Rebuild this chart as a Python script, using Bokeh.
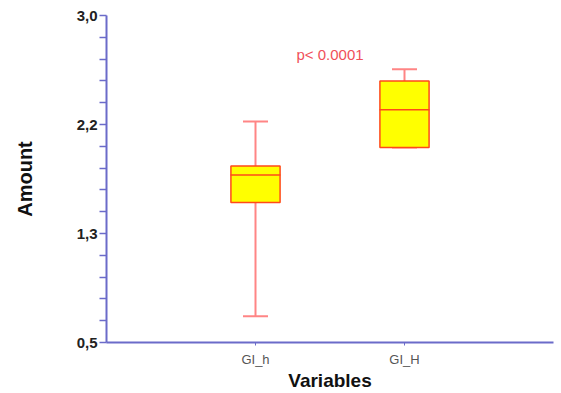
from bokeh.plotting import figure
from bokeh.models import FactorRange, Range1d, FixedTicker, Whisker, ColumnDataSource, Label, TeeHead
from bokeh.embed import file_html
from bokeh.resources import INLINE

# ---- data ----
categories = ["GI_h", "GI_H"]
lower = [0.70, 1.99]
q1 = [1.57, 1.99]
median = [1.78, 2.28]
q3 = [1.85, 2.50]
upper = [2.19, 2.59]

y_ticks = [0.5, 0.5 + 2.5 / 3, 0.5 + 5.0 / 3, 3.0]
y_tick_labels = ["0,5", "1,3", "2,2", "3,0"]
p_text = "p< 0.0001"

AXIS_COLOR = "#6b6bc9"
FONT = "Liberation Sans"

p = figure(width=555, height=393, output_backend="svg", toolbar_location=None,
           x_range=FactorRange(factors=categories, range_padding=0.5, range_padding_units="absolute"),
           y_range=Range1d(0.5, 3.0),
           min_border_left=106, min_border_right=2, min_border_top=15, min_border_bottom=51)
p.outline_line_color = None
p.grid.visible = False
p.background_fill_color = "white"
p.border_fill_color = "white"

src = ColumnDataSource(dict(cat=categories, lower=lower, q1=q1, median=median, q3=q3, upper=upper))

w = Whisker(base="cat", lower="lower", upper="upper", source=src, level="underlay",
            line_color="#ff8585", line_width=2,
            upper_head=TeeHead(size=25, line_color="#ff8585", line_width=2),
            lower_head=TeeHead(size=25, line_color="#ff8585", line_width=2))
p.add_layout(w)

p.vbar(x="cat", width=0.33, bottom="q1", top="q3", source=src,
       fill_color="#ffff00", line_color="#ff4a1a", line_width=1.5)
p.rect(x="cat", y="median", width=0.33, height=0.0001, source=src,
       fill_color=None, line_color="#ff4a1a", line_width=1.5)

p.add_layout(Label(x=1.0, y=2.70, text=p_text, text_align="center", text_baseline="middle",
                   text_color="#f0505a", text_font=FONT, text_font_size="15px"))

# y axis
ya = p.yaxis[0]
ya.ticker = FixedTicker(ticks=y_ticks,
                        minor_ticks=[y_ticks[i] + (y_ticks[i + 1] - y_ticks[i]) * k / 5
                                     for i in range(3) for k in range(1, 5)])
ya.major_label_overrides = {t: l for t, l in zip(y_ticks, y_tick_labels)}
ya.axis_label = "Amount"
ya.axis_label_text_font = FONT
ya.axis_label_text_font_style = "bold"
ya.axis_label_text_font_size = "20px"
ya.axis_label_text_color = "#111111"
ya.axis_label_standoff = 38
ya.major_label_text_font = FONT
ya.major_label_text_font_style = "bold"
ya.major_label_text_font_size = "15px"
ya.major_label_text_color = "#222222"
ya.major_label_standoff = 2
ya.axis_line_color = AXIS_COLOR
ya.axis_line_width = 2
ya.major_tick_line_color = AXIS_COLOR
ya.minor_tick_line_color = AXIS_COLOR
ya.major_tick_line_width = 1.5
ya.minor_tick_line_width = 1.5
ya.major_tick_in = 0
ya.major_tick_out = 7
ya.minor_tick_in = 0
ya.minor_tick_out = 7

# x axis
xa = p.xaxis[0]
xa.axis_label = "Variables"
xa.axis_label_text_font = FONT
xa.axis_label_text_font_style = "bold"
xa.axis_label_text_font_size = "19px"
xa.axis_label_text_color = "#111111"
xa.axis_label_standoff = 0
xa.major_label_text_font = FONT
xa.major_label_text_font_size = "13px"
xa.major_label_text_color = "#555555"
xa.major_label_standoff = 6
xa.axis_line_color = AXIS_COLOR
xa.axis_line_width = 2
xa.major_tick_line_color = AXIS_COLOR
xa.major_tick_in = 0
xa.major_tick_out = 3
xa.group_text_font_size = "0px"

open("out.html", "w").write(file_html(p, INLINE))
